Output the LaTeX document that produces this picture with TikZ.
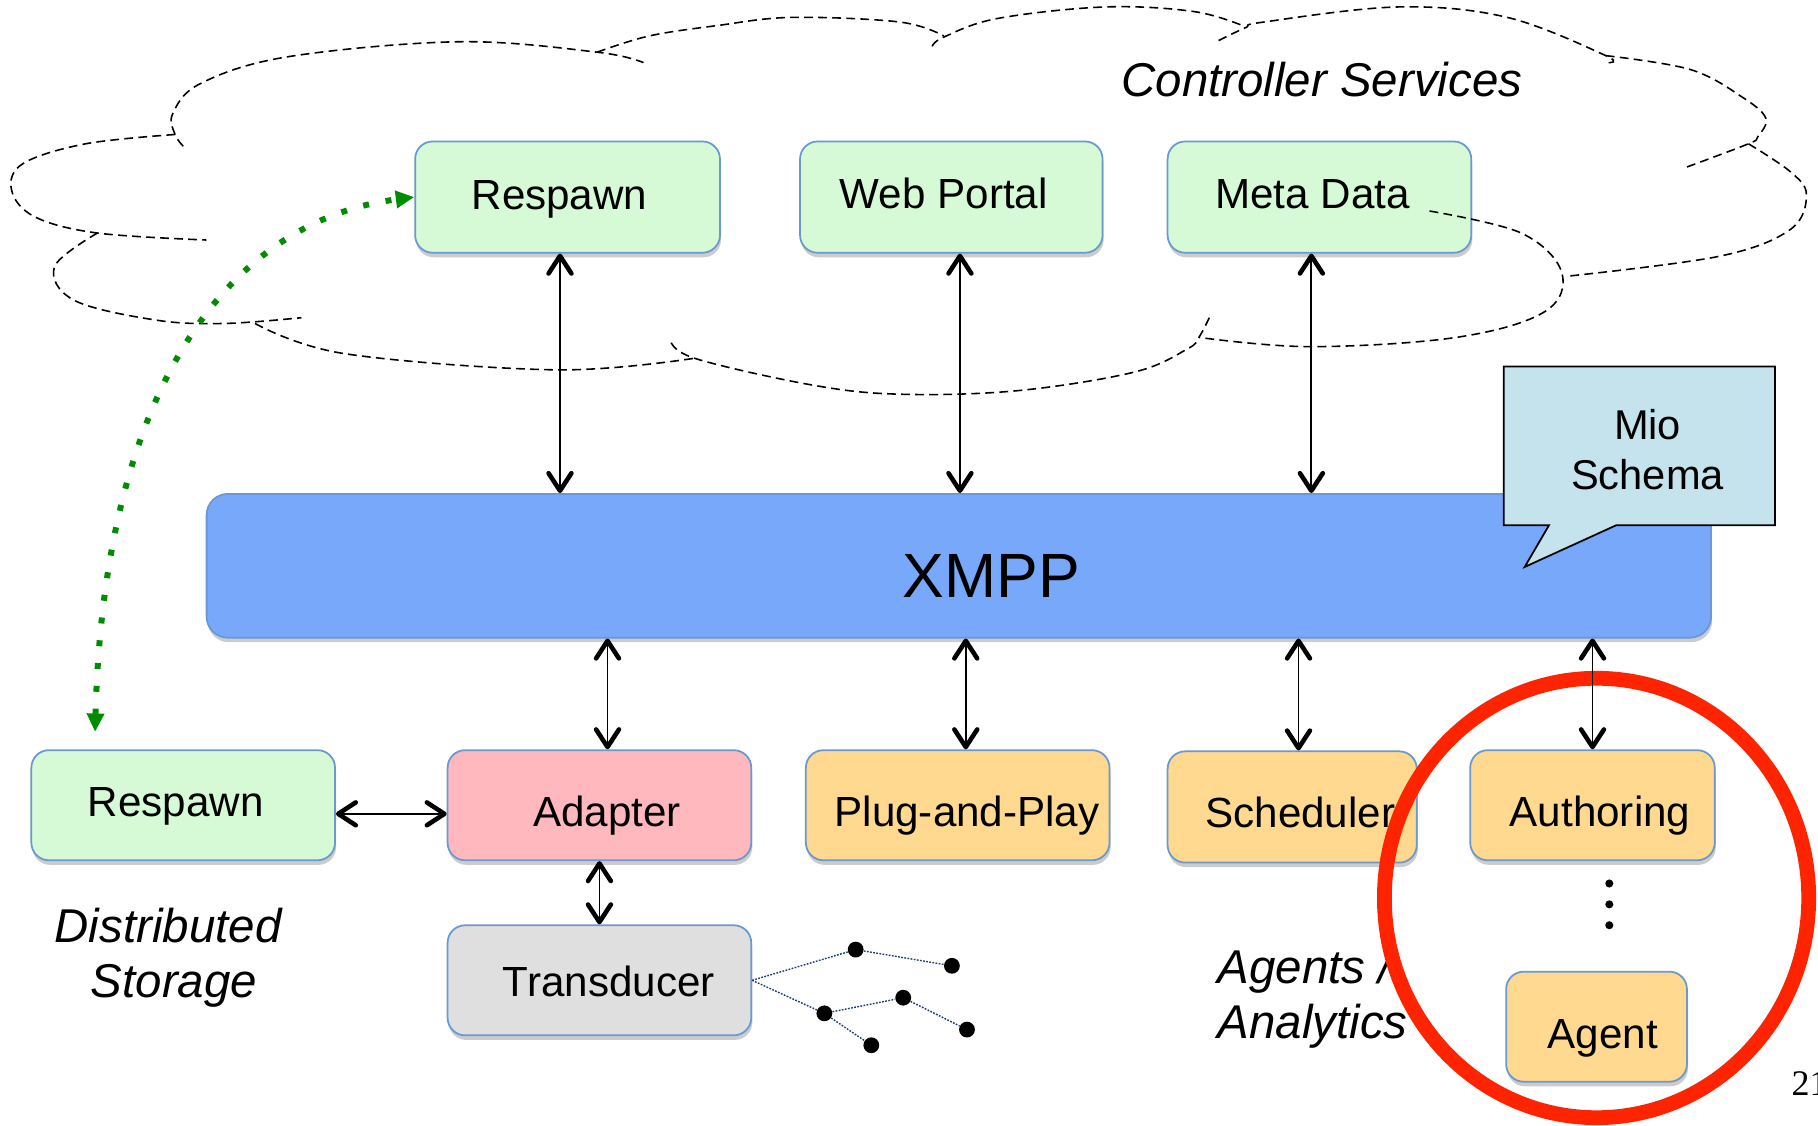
\documentclass[tikz,border=0pt]{standalone}
\usepackage{fontspec}
\setmainfont{Liberation Sans}
\newfontfamily\pgserif{Liberation Serif}
\usetikzlibrary{arrows.meta,shadows}
\definecolor{gbox}{HTML}{D5FAD5}
\definecolor{boxedge}{HTML}{6A98D0}
\definecolor{pinkbox}{HTML}{FFB8BD}
\definecolor{obox}{HTML}{FED98F}
\definecolor{graybox}{HTML}{DFDFDF}
\definecolor{xmppfill}{HTML}{78A8FA}
\definecolor{xmppedge}{HTML}{6B97D6}
\definecolor{miofill}{HTML}{C4E3EC}
\definecolor{redring}{HTML}{FF2400}
\definecolor{greenarr}{HTML}{008C00}
\definecolor{treeline}{HTML}{1F3D7A}
\newcommand{\upx}{0.6597pt}
\newcommand{\bt}[3]{\raisebox{#2}[\height][\depth]{\hspace*{#1}#3\hspace*{-#1}}}
\begin{document}
\begin{tikzpicture}[x=0.023188cm,y=-0.023188cm,
  box/.style={draw=boxedge, line width=1pt, rounded corners=10pt, inner sep=0pt,
    font=\fontsize{24}{28.8}\selectfont,
    drop shadow={shadow xshift=0.6pt, shadow yshift=-2.6pt, opacity=0.4}},
  greenbox/.style={box, fill=gbox},
  pinkbx/.style={box, fill=pinkbox},
  orangebox/.style={box, fill=obox},
  graybx/.style={box, fill=graybox},
  cloudline/.style={line width=0.9pt, dash pattern=on 5pt off 3pt},
  itlabel/.style={font=\fontsize{27}{32}\selectfont\itshape, inner sep=0pt},
  barb/.tip={Straight Barb[length=10pt,width=13pt,line width=2.6pt,round]},
  biarrow/.style={line width=1pt, barb-barb},
  greenarrow/.style={greenarr, line width=3.4pt, dash pattern=on 3.4pt off 9.6pt,
    {Triangle[length=10.5pt,width=9.5pt]}-{Triangle[length=10.5pt,width=9.5pt]}},
  treedot/.style={circle, fill=black, inner sep=0pt, minimum size=9pt},
  treeedge/.style={treeline, line width=0.8pt, dash pattern=on 1pt off 0.8pt},
  vdot/.style={circle, fill=black, inner sep=0pt, minimum size=4.6pt}
]
\useasboundingbox (0,0) rectangle (1568,971);
\clip (0,0) rectangle (1568,971);

% top service boxes
\node[greenbox, minimum width=263*\upx, minimum height=96*\upx] (resp) at (489.5,170) {\bt{-4.6pt}{-1.2pt}{Respawn}};
\node[greenbox, minimum width=261*\upx, minimum height=96*\upx] (web) at (820.5,170) {\bt{-4.3pt}{2pt}{Web Portal}};
\node[greenbox, minimum width=262*\upx, minimum height=96*\upx] (meta) at (1138,170) {\bt{-4pt}{1.7pt}{Meta Data}};

% XMPP bar
\node[draw=xmppedge, fill=xmppfill, line width=1pt, rounded corners=12pt, inner sep=0pt,
  minimum width=1298*\upx, minimum height=124*\upx,
  font=\fontsize{35.6}{40}\selectfont,
  drop shadow={shadow xshift=0.6pt, shadow yshift=-2.6pt, opacity=0.4}]
  (xmpp) at (827,488) {\bt{18.5pt}{-5.6pt}{XMPP}};

% bottom boxes
\node[greenbox, minimum width=262*\upx, minimum height=95*\upx] (resp2) at (158,694.5) {\bt{-4.3pt}{-0.9pt}{Respawn}};
\node[pinkbx, minimum width=262*\upx, minimum height=95*\upx] (adapter) at (517,694.5) {\bt{4.4pt}{-6.1pt}{Adapter}};
\node[orangebox, minimum width=262*\upx, minimum height=95*\upx] (pnp) at (826,694.5) {\bt{5.3pt}{-6.1pt}{Plug-and-Play}};
\node[orangebox, minimum width=215*\upx, minimum height=96*\upx] (sched) at (1114.5,696) {\bt{4.6pt}{-3.2pt}{Scheduler}};
\node[orangebox, minimum width=211*\upx, minimum height=95*\upx] (auth) at (1373.5,694.5) {\bt{4.3pt}{-6.1pt}{Authoring}};
\node[orangebox, minimum width=156*\upx, minimum height=95*\upx] (agent) at (1377,885.5) {\bt{3.6pt}{-6.8pt}{Agent}};
\node[graybx, minimum width=262*\upx, minimum height=95*\upx] (trans) at (517,845.5) {\bt{5.3pt}{-0.5pt}{Transducer}};

% cloud outline
\draw[cloudline] plot[smooth, tension=0.6] coordinates {(158,126) (151,116) (149,98) (173,72) (248,49) (396,36) (515,45) (555,54)};
\draw[cloudline] plot[smooth, tension=0.6] coordinates {(515,45) (560,31) (619,22) (683,15) (776,19) (814,31)};
\draw[cloudline] plot[smooth, tension=0.6] coordinates {(804,40) (814,32) (860,16) (953,6) (1030,10) (1074,23)};
\draw[cloudline] plot[smooth, tension=0.6] coordinates {(1051,35) (1074,24) (1090,19) (1206,6) (1300,15) (1385,48) (1387,54)};
\draw[cloudline] plot[smooth, tension=0.6] coordinates {(1385,48) (1458,60) (1503,84) (1523,102) (1516,118) (1508,124) (1455,144)};
\draw[cloudline] plot[smooth, tension=0.6] coordinates {(1508,124) (1544,148) (1558,168) (1544,198) (1483,221) (1354,238)};
\draw[cloudline] plot[smooth, tension=0.6] coordinates {(1233,182) (1312,201) (1347,235) (1332,269) (1256,291) (1130,299) (1034,291)};
\draw[cloudline] plot[smooth, tension=0.6] coordinates {(1043,274) (1034,291) (1024,301) (978,321) (877,337) (776,340) (700,332) (599,309) (578,293)};
\draw[cloudline] plot[smooth, tension=0.6] coordinates {(220,279) (297,305) (480,319) (599,309)};
\draw[cloudline] plot[smooth, tension=0.6] coordinates {(84,201) (47,230) (64,259) (134,276) (193,279) (260,274)};
\draw[cloudline] plot[smooth, tension=0.6] coordinates {(151,116) (74,124) (20,141) (10,164) (30,187) (84,201) (178,207)};

% Mio Schema callout
\filldraw[fill=miofill, draw=black, line width=1pt, line join=miter]
  (1297,316) -- (1531,316) -- (1531,453) -- (1394,453) -- (1315,489) -- (1336,453) -- (1297,453) -- cycle;
\node[anchor=base, font=\fontsize{23.7}{28}\selectfont, inner sep=0pt] (mio) at (1421,379) {Mio};
\node[anchor=base, font=\fontsize{23.7}{28}\selectfont, inner sep=0pt] (schema) at (1421,422) {Schema};

% labels
\node[itlabel, anchor=base west] (cs) at (967,83) {Controller Services};
\node[itlabel, anchor=base] (ds1) at (145,813) {Distributed};
\node[itlabel, anchor=base] (ds2) at (150,860.5) {Storage};
\node[itlabel, anchor=base west] (aa1) at (1050,848) {Agents /};
\node[itlabel, anchor=base west] (aa2) at (1050,895.5) {Analytics};

% sensor tree
\node[treedot] (t1) at (738,819) {};
\node[treedot] (t2) at (821,833) {};
\node[treedot] (t3) at (711,874) {};
\node[treedot] (t4) at (779,860.5) {};
\node[treedot] (t5) at (834,888) {};
\node[treedot] (t6) at (751.5,901.5) {};
\draw[treeedge] (trans.east) -- (t1);
\draw[treeedge] (trans.east) -- (t3);
\draw[treeedge] (t1) -- (t2);
\draw[treeedge] (t3) -- (t4);
\draw[treeedge] (t4) -- (t5);
\draw[treeedge] (t3) -- (t6);

% vertical ellipsis
\node[vdot] (d1) at (1388,762) {};
\node[vdot] (d2) at (1388,780) {};
\node[vdot] (d3) at (1388,798) {};

% red highlight ring
\draw[redring, line width=8.4pt] (1377,774.5) ellipse [x radius=183, y radius=189.5];

% connectors to XMPP
\coordinate (a1) at ([xshift=-4.3pt]resp.south);
\coordinate (a2) at ([xshift=4.9pt]web.south);
\coordinate (a3) at ([xshift=-4.6pt]meta.south);
\draw[biarrow] (a1) -- (a1 |- xmpp.north);
\draw[biarrow] (a2) -- (a2 |- xmpp.north);
\draw[biarrow] (a3) -- (a3 |- xmpp.north);
\coordinate (b1) at ([xshift=4.6pt]adapter.north);
\coordinate (b2) at ([xshift=4.6pt]pnp.north);
\coordinate (b3) at ([xshift=3.6pt]sched.north);
\coordinate (b4) at (auth.north);
\draw[biarrow] (b1 |- xmpp.south) -- (b1);
\draw[biarrow] (b2 |- xmpp.south) -- (b2);
\draw[biarrow] (b3 |- xmpp.south) -- (b3);
\draw[biarrow] (b4 |- xmpp.south) -- (b4);
\draw[biarrow] (adapter.south) -- (trans.north);
\draw[biarrow] ([yshift=-4.9pt]resp2.east) -- ([yshift=-4.9pt]adapter.west);

% green dotted respawn link
\coordinate (g1) at ([shift={(-76,-15)}]resp2.north);
\draw[greenarrow] (g1) .. controls (90,330) and (200,190) .. (resp.west);

% page number (cut by the right edge, as in the reference)
\node[anchor=base west, font=\pgserif\fontsize{20.5}{24}\selectfont, inner sep=0pt] (pg) at (1545,945) {21};
\end{tikzpicture}
\end{document}
